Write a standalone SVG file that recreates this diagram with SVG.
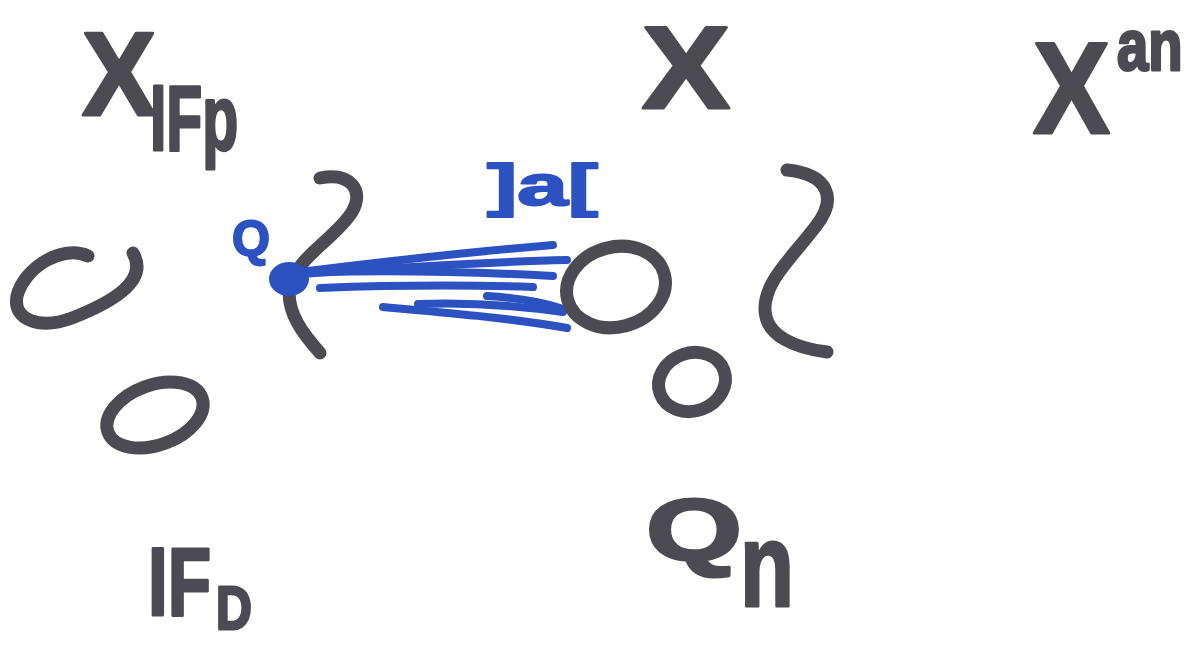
<svg xmlns="http://www.w3.org/2000/svg" width="1191" height="645" viewBox="0 0 1191 645">
<style>
.ink{fill:none;stroke:#4c4b53;stroke-width:13;stroke-linecap:round;stroke-linejoin:round}
.t{font-family:"Liberation Sans",Arial,sans-serif;font-weight:bold;fill:#4c4b53;stroke:#4c4b53;stroke-width:3;stroke-linejoin:round}
.bt{font-family:"Liberation Sans",Arial,sans-serif;font-weight:bold;fill:#2c52c2;stroke:#2c52c2;stroke-width:2;stroke-linejoin:round}
.bl{fill:none;stroke:#2c52c2;stroke-width:8;stroke-linecap:round}
</style>
<rect width="1191" height="645" fill="#ffffff"/>
<g id="label-x-ifp">
<text class="t" x="82" y="115" font-size="118" textLength="74" lengthAdjust="spacingAndGlyphs">X</text>
<text class="t" transform="translate(150 150) scale(0.64 1)" x="0" y="0" font-size="92">IFp</text>
</g>
<g id="label-x">
<text class="t" x="642" y="108" font-size="116" textLength="88" lengthAdjust="spacingAndGlyphs">X</text>
</g>
<g id="label-x-an">
<text class="t" x="1033" y="133" font-size="130" textLength="77" lengthAdjust="spacingAndGlyphs">X</text>
<text class="t" transform="translate(1117 70) scale(0.78 1)" x="0" y="0" font-size="72">an</text>
</g>
<g id="open-loop">
<path class="ink" d="M88,256 C62,244 24,268 17,296 C12,320 40,330 72,318 C108,304 150,282 133,253"/>
</g>
<g id="ellipse-left">
<ellipse class="ink" cx="155" cy="415" rx="50" ry="30" transform="rotate(-20 155 415)"/>
</g>
<g id="label-ifd">
<text class="t" transform="translate(148 615) scale(0.74 1)" x="0" y="0" font-size="96">IF</text>
<text class="t" transform="translate(216 629) scale(0.8 1)" x="0" y="0" font-size="62">D</text>
</g>
<g id="arc-left">
<path class="ink" d="M320,178 C350,172 365,190 352,212 C336,238 298,256 290,286 C285,312 305,336 320,353"/>
</g>
<g id="connectors">
<path class="bl" d="M300,272 C380,262 470,252 553,245"/>
<path class="bl" d="M300,274 C390,268 480,262 567,260"/>
<path class="bl" d="M320,272 C400,270 480,272 553,276"/>
<path class="bl" d="M320,288 C400,285 470,285 533,287"/>
<path class="bl" d="M418,304 C470,302 520,306 563,312"/>
<path class="bl" d="M487,296 C520,298 545,303 560,308"/>
<path class="bl" d="M383,307 C440,312 510,318 567,328"/>
</g>
<g id="point-q">
<ellipse cx="289" cy="279" rx="20" ry="17" fill="#2c52c2"/>
<text class="bt" x="232" y="256" font-size="50" textLength="38" lengthAdjust="spacingAndGlyphs">Q</text>
</g>
<g id="label-jac">
<text class="bt" x="487" y="205" font-size="57" textLength="111" lengthAdjust="spacingAndGlyphs">]a[</text>
</g>
<g id="circle-mid">
<ellipse class="ink" cx="616" cy="287" rx="50" ry="40" transform="rotate(-15 616 287)"/>
</g>
<g id="circle-small">
<ellipse class="ink" cx="692" cy="382" rx="34" ry="29" transform="rotate(-20 692 382)"/>
</g>
<g id="arc-right">
<path class="ink" d="M787,170 C828,174 838,198 816,226 C790,260 764,282 765,310 C766,336 795,348 827,352"/>
</g>
<g id="label-qn">
<text class="t" x="646" y="560" font-size="88" textLength="96" lengthAdjust="spacingAndGlyphs">Q</text>
<text class="t" x="740" y="606" font-size="118" textLength="54" lengthAdjust="spacingAndGlyphs">n</text>
</g>
</svg>
